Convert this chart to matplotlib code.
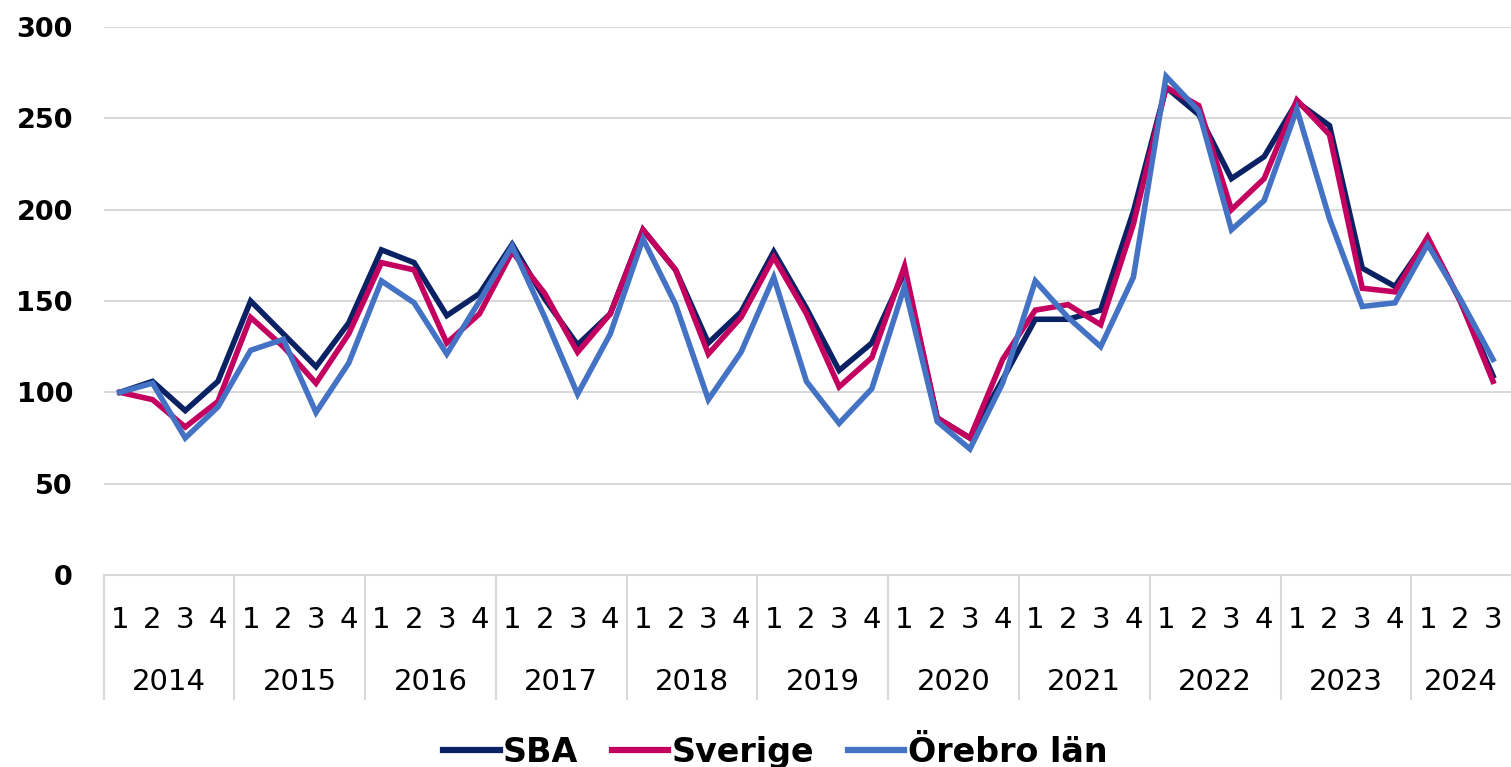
import numpy as np
from matplotlib import pyplot as plt

# Kvartal 2014 Q1 - 2024 Q3 (index, 2014 Q1 = 100)
years = ["2014", "2015", "2016", "2017", "2018", "2019", "2020", "2021", "2022", "2023", "2024"]
quarters = ["1", "2", "3", "4"] * 10 + ["1", "2", "3"]

sba = [100, 106, 90, 106, 150, 132, 114, 138, 178, 171, 142, 154,
       181, 151, 126, 143, 189, 167, 127, 144, 177, 146, 112, 127,
       166, 86, 75, 107, 140, 140, 145, 199, 267, 252, 217, 229,
       259, 246, 168, 158, 184, 150, 109]
sverige = [100, 96, 81, 95, 141, 125, 105, 132, 171, 167, 127, 143,
           177, 154, 122, 143, 189, 167, 121, 141, 174, 143, 103, 119,
           169, 86, 75, 118, 145, 148, 137, 192, 267, 257, 200, 217,
           260, 241, 157, 155, 185, 150, 106]
orebro = [100, 105, 75, 92, 123, 129, 89, 116, 161, 149, 121, 150,
          180, 141, 99, 132, 184, 148, 96, 122, 163, 106, 83, 102,
          158, 84, 69, 105, 161, 141, 125, 163, 273, 254, 189, 205,
          255, 195, 147, 149, 181, 151, 118]

grid_col = "#d9d9d9"

fig = plt.figure(figsize=(15.11, 7.67), dpi=100)
ax = fig.add_axes([103.5 / 1511, 1 - 575 / 767, 1 - 103.5 / 1511, 548 / 767])

x = np.arange(len(quarters))
ax.plot(x, sba, color="#0a2164", lw=4.0, label="SBA", solid_joinstyle="miter")
ax.plot(x, sverige, color="#c3005f", lw=4.0, label="Sverige", solid_joinstyle="miter")
ax.plot(x, orebro, color="#4472c4", lw=4.0, label="Örebro län", solid_joinstyle="miter")

ax.set_ylim(0, 300)
ax.set_xlim(-0.5, len(quarters) - 0.45)
ax.set_yticks(range(0, 301, 50))
ax.grid(axis="y", color=grid_col, lw=1.5)
ax.set_axisbelow(True)
for s in ["top", "right", "left"]:
    ax.spines[s].set_visible(False)
ax.spines["bottom"].set_color(grid_col)
ax.spines["bottom"].set_linewidth(1.5)

ax.tick_params(axis="y", length=0, pad=22, labelsize=19.5)
for lbl in ax.get_yticklabels():
    lbl.set_fontweight("bold")

# kvartal
ax.set_xticks(x)
ax.set_xticklabels(quarters, fontsize=21)
ax.tick_params(axis="x", which="major", length=0, pad=22)

# skiljelinjer mellan år
bounds = np.arange(-0.5, len(quarters), 4)
ax.set_xticks(bounds, minor=True)
ax.tick_params(axis="x", which="minor", length=90, width=1.5, color=grid_col)

# år
year_pos = [i * 4 + 1.5 for i in range(len(years) - 1)] + [41]
sec = ax.secondary_xaxis("bottom")
sec.set_xticks(year_pos)
sec.set_xticklabels(years, fontsize=21)
sec.tick_params(length=0, pad=67)
sec.spines["bottom"].set_visible(False)

leg = ax.legend(loc="lower center", bbox_to_anchor=(775 / 1511, -0.02), bbox_transform=fig.transFigure,
                ncol=3, frameon=False, fontsize=24, handlelength=1.7, handletextpad=0.1,
                columnspacing=1.0, borderaxespad=0.0)
for t in leg.get_texts():
    t.set_fontweight("bold")
for l in leg.get_lines():
    l.set_linewidth(4.5)

fig.savefig("out.png", dpi=100)
